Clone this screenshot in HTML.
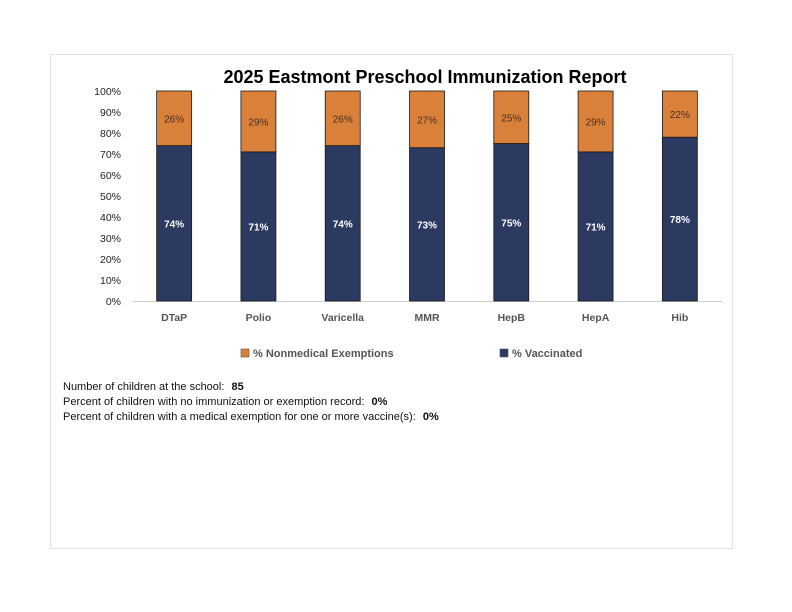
<!DOCTYPE html>
<html><head><meta charset="utf-8"><style>
body{margin:0;width:792px;height:612px;background:#fff;font-family:"Liberation Sans",sans-serif;overflow:hidden}
#panel{position:absolute;left:50px;top:54px;width:683px;height:495px;border:1px solid #e3e3e3;box-sizing:border-box}
.info{position:absolute;left:63px;font-size:11px;color:#111;white-space:nowrap}
.info b{margin-left:4px}
</style></head><body>
<div id="panel"></div>
<svg id="chart" width="792" height="612" style="position:absolute;left:0;top:0"></svg>
<div class="info" style="top:381px">Number of children at the school: <b>85</b></div>
<div class="info" style="top:396px">Percent of children with no immunization or exemption record: <b>0%</b></div>
<div class="info" style="top:411px">Percent of children with a medical exemption for one or more vaccine(s): <b>0%</b></div>
<script>
const categories=["DTaP","Polio","Varicella","MMR","HepB","HepA","Hib"];
const vaccinated=[74,71,74,73,75,71,78];
const exemptions=[26,29,26,27,25,29,22];
const yTicks=[0,10,20,30,40,50,60,70,80,90,100];
const NS="http://www.w3.org/2000/svg";
const svg=document.getElementById('chart');
const x0=132,x1=722,yBase=301,yTop=91;
const band=(x1-x0)/categories.length,barW=35;
const y=v=>yBase-(v/100)*(yBase-yTop);
const xc=i=>x0+band*(i+0.5);
function mk(tag,attrs,txt){const e=document.createElementNS(NS,tag);for(const k in attrs)e.setAttribute(k,attrs[k]);if(txt!==undefined)e.textContent=txt;svg.appendChild(e);return e;}
let t=mk('text',{x:425,y:83,'text-anchor':'middle','font-size':18,'font-weight':'bold',fill:'#000'},'2025 Eastmont Preschool Immunization Report');


yTicks.forEach(v=>{const e=mk('text',{x:121,y:y(v)+4,'text-anchor':'end','font-size':10.5,fill:'#222'},v+'%');

});
let ax=mk('line',{x1:x0,x2:x1,y1:yBase+0.5,y2:yBase+0.5,stroke:'#d0d0d0','stroke-width':1});


categories.forEach((c,i)=>{
 const cx=xc(i),bx=cx-barW/2;
 const yv=y(vaccinated[i]),ye=y(vaccinated[i]+exemptions[i]);
 let r=mk('rect',{x:bx,y:yv,width:barW,height:yBase-yv,fill:'#2C3A62',stroke:'#1a1a1a','stroke-width':0.8});
 
 
 let r2=mk('rect',{x:bx,y:ye,width:barW,height:yv-ye,fill:'#D9803B',stroke:'#1a1a1a','stroke-width':0.8});
 
 
 let l1=mk('text',{x:cx,y:(yv+yBase)/2+4,'text-anchor':'middle','font-size':10,'font-weight':'bold',fill:'#fff'},vaccinated[i]+'%');
 
 
 let l2=mk('text',{x:cx,y:(yv+ye)/2+4,'text-anchor':'middle','font-size':10,fill:'#4a3020'},exemptions[i]+'%');
 
 
 let xl=mk('text',{x:cx,y:321,'text-anchor':'middle','font-size':10.5,'font-weight':'bold',fill:'#555'},c);
 
 
});
let s1=mk('rect',{x:241,y:349,width:8,height:8,fill:'#D9803B',stroke:'#555','stroke-width':0.6});


let lt1=mk('text',{x:253,y:357,'font-size':11,'font-weight':'bold',fill:'#555'},'% Nonmedical Exemptions');


let s2=mk('rect',{x:500,y:349,width:8,height:8,fill:'#2C3A62',stroke:'#555','stroke-width':0.6});


let lt2=mk('text',{x:512,y:357,'font-size':11,'font-weight':'bold',fill:'#555'},'% Vaccinated');


</script>
</body></html>
